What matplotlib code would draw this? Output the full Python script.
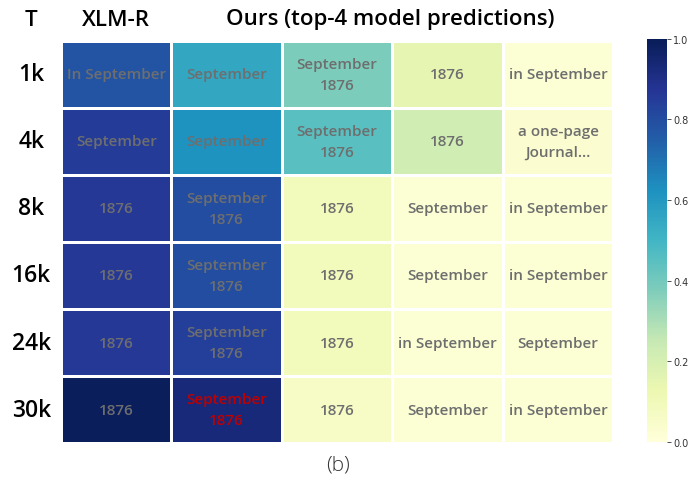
import numpy as np
import matplotlib.pyplot as plt

plt.rcParams['font.family'] = ['Open Sans', 'DejaVu Sans']

# ===============================
# data
# ===============================
rows = ["1k", "4k", "8k", "16k", "24k", "30k"]
headers = ["T", "XLM-R", "Ours (top-4 model predictions)"]

scores = np.array([
    [0.78, 0.55, 0.38, 0.15, 0.02],
    [0.85, 0.62, 0.45, 0.22, 0.03],
    [0.86, 0.80, 0.09, 0.02, 0.02],
    [0.86, 0.80, 0.09, 0.02, 0.02],
    [0.86, 0.84, 0.09, 0.02, 0.02],
    [0.99, 0.93, 0.06, 0.02, 0.02],
])

labels = [
    ["In September", "September", "September\n1876", "1876", "in September"],
    ["September", "September", "September\n1876", "1876", "a one-page\nJournal\u2026"],
    ["1876", "September\n1876", "1876", "September", "in September"],
    ["1876", "September\n1876", "1876", "September", "in September"],
    ["1876", "September\n1876", "1876", "in September", "September"],
    ["1876", "September\n1876", "1876", "September", "in September"],
]
highlight = (5, 1)

# ===============================
# figure
# ===============================
fig = plt.figure(figsize=(6.93, 4.85), dpi=100)
ax = fig.add_axes([0.088, 0.0845, 0.797, 0.829])
cax = fig.add_axes([0.934, 0.087, 0.029, 0.831])

cmap = plt.get_cmap("YlGnBu")
mesh = ax.pcolormesh(scores, cmap=cmap, vmin=0, vmax=1,
                     edgecolors="white", linewidth=0.9)
ax.set_xlim(0, scores.shape[1])
ax.set_ylim(scores.shape[0], 0)
ax.set_xticks([])
ax.set_yticks([])
for s in ax.spines.values():
    s.set_visible(False)

for i in range(scores.shape[0]):
    for j in range(scores.shape[1]):
        color = "#c00000" if (i, j) == highlight else "#6e6e6e"
        ax.text(j + 0.5, i + 0.5, labels[i][j], ha="center", va="center",
                fontsize=11, color=color, linespacing=1.6, fontweight="semibold")

for i, r in enumerate(rows):
    ax.text(-0.27, i + 0.5, r, ha="center", va="center",
            fontsize=16.5, fontweight="semibold", color="black")

fig.text(31 / 693, 1 - 21 / 485, headers[0], ha="center", va="center", fontsize=16, fontweight="semibold")
fig.text(116 / 693, 1 - 20 / 485, headers[1], ha="center", va="center", fontsize=16, fontweight="semibold")
fig.text(390 / 693, 1 - 20 / 485, headers[2], ha="center", va="center", fontsize=16, fontweight="semibold")
fig.text(338 / 693, 1 - 466 / 485, "(b)", ha="center", va="center", fontsize=15, color="#333333",
         fontweight="light")

cb = fig.colorbar(mesh, cax=cax)
cb.outline.set_visible(False)
cb.set_ticks([0, 0.2, 0.4, 0.6, 0.8, 1.0])
cb.ax.tick_params(labelsize=7, length=3, width=0.6, pad=1, colors="#333333")
for t in cb.ax.get_yticklabels():
    t.set_family("DejaVu Sans")

fig.savefig("out.png", dpi=100)
